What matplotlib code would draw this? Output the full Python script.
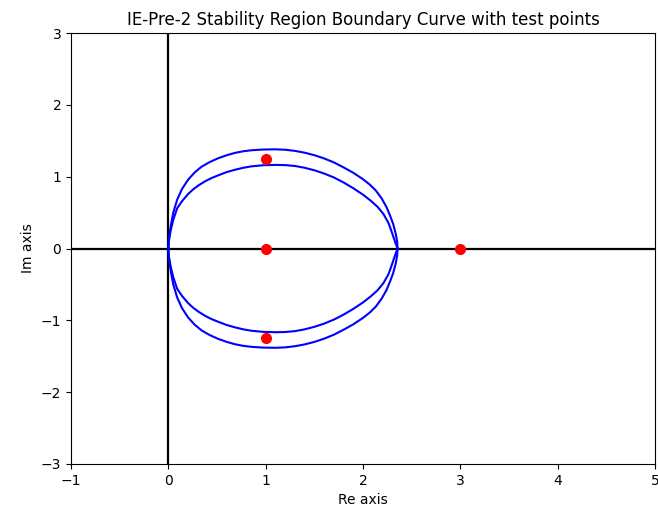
import numpy as np
import matplotlib
matplotlib.use('Agg')
import matplotlib.pyplot as plt

# upper halves of the two boundary loops (lower half is the mirror)
outer_x = [0.0, 0.004, 0.01, 0.025, 0.05, 0.09, 0.14, 0.203, 0.27, 0.341, 0.425,
           0.512, 0.6, 0.683, 0.77, 0.855, 0.974, 1.10, 1.2, 1.3, 1.4, 1.5,
           1.6, 1.7, 1.8, 1.9, 2.0, 2.07, 2.13, 2.19, 2.24, 2.28, 2.31, 2.335,
           2.35, 2.355]
outer_y = [0.0, 0.10, 0.18, 0.32, 0.50, 0.68, 0.83, 0.96, 1.06, 1.14, 1.205,
           1.258, 1.30, 1.332, 1.355, 1.369, 1.379, 1.382, 1.376, 1.36, 1.335,
           1.30, 1.255, 1.20, 1.13, 1.055, 0.965, 0.89, 0.81, 0.70, 0.58, 0.45,
           0.34, 0.21, 0.10, 0.0]

inner_x = [0.0, 0.004, 0.01, 0.025, 0.05, 0.09, 0.14, 0.203, 0.255, 0.315,
           0.375, 0.44, 0.512, 0.6, 0.683, 0.77, 0.855, 0.974, 1.10, 1.2, 1.3,
           1.4, 1.5, 1.6, 1.7, 1.8, 1.9, 2.0, 2.08, 2.15, 2.21, 2.26, 2.29,
           2.315, 2.335, 2.35, 2.355]
inner_y = [0.0, 0.09, 0.15, 0.26, 0.40, 0.56, 0.66, 0.76, 0.825, 0.885, 0.935,
           0.98, 1.02, 1.065, 1.097, 1.125, 1.145, 1.160, 1.165, 1.162, 1.15,
           1.125, 1.09, 1.045, 0.99, 0.92, 0.84, 0.75, 0.665, 0.58, 0.48, 0.36,
           0.25, 0.15, 0.07, 0.02, 0.0]

# test points
test_re = [1, 1, 1, 3]
test_im = [1.25, 0, -1.25, 0]


def closed(xs, ys):
    xs = np.array(xs)
    ys = np.array(ys)
    return (np.concatenate([xs, xs[::-1]]), np.concatenate([ys, -ys[::-1]]))


fig = plt.figure(figsize=(6.58, 5.16), dpi=100)
ax = fig.add_axes([0.108, 0.1008, 0.8875, 0.835])

ax.axhline(0, color='k', lw=1.6)
ax.axvline(0, color='k', lw=1.6)

for xs, ys in [(outer_x, outer_y), (inner_x, inner_y)]:
    cx, cy = closed(xs, ys)
    ax.plot(cx, cy, color='b', lw=1.5)

ax.plot(test_re, test_im, 'ro', markersize=7)

ax.set_xlim(-1, 5)
ax.set_ylim(-3, 3)
ax.set_xlabel('Re axis')
ax.set_ylabel('Im axis')
ax.set_title('IE-Pre-2 Stability Region Boundary Curve with test points')

fig.savefig('out.png', dpi=100)
